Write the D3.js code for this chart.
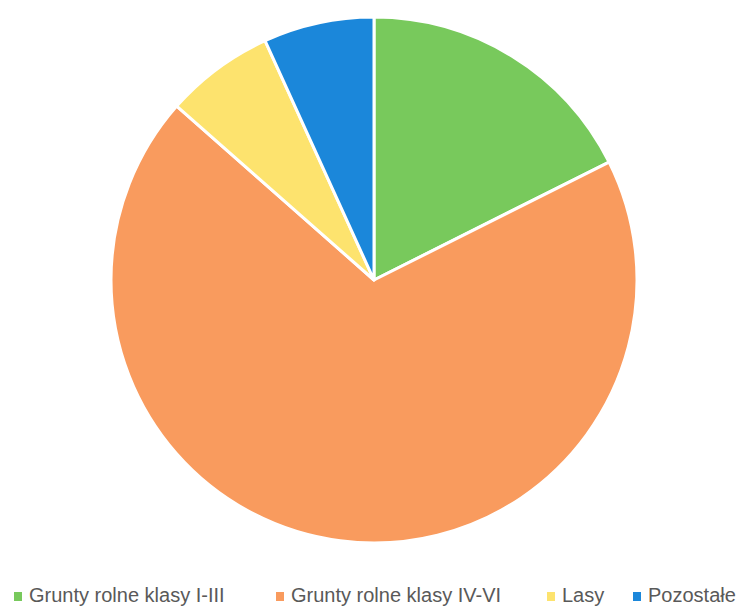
<!DOCTYPE html>
<html>
<head>
<meta charset="utf-8">
<script src="https://cdn.jsdelivr.net/npm/d3@7"></script>
<style>
  body { margin: 0; background: #fff; }
  svg { display: block; }
</style>
</head>
<body>
<svg id="chart"></svg>
<script>
const WIDTH = 742
const HEIGHT = 609

const categories = ['Grunty rolne klasy I-III', 'Grunty rolne klasy IV-VI', 'Lasy', 'Pozostałe']
const values = [17.6, 68.9, 6.7, 6.8]
const colors = ['#78c95c', '#f99b5e', '#fde36e', '#1b87da']

// legend marker x for each entry
const legendX = [14, 276, 547, 633]

const svg = d3.select('#chart')
    .attr('width', WIDTH)
    .attr('height', HEIGHT)

const cx = 374
const cy = 280
const radius = 263

const pie = d3.pie().sort(null).value(d => d)
const arc = d3.arc().innerRadius(0).outerRadius(radius)

const g = svg.append('g').attr('transform', `translate(${cx},${cy})`)

g.selectAll('path')
    .data(pie(values))
    .join('path')
    .attr('d', arc)
    .attr('fill', (d, i) => colors[i])
    .attr('stroke', '#fff')
    .attr('stroke-width', 3)
    .attr('stroke-linejoin', 'round')

// legend
const legend = svg.append('g').attr('class', 'legend')
const items = legend.selectAll('g')
    .data(categories)
    .join('g')
    .attr('transform', (d, i) => `translate(${legendX[i]},602)`)

items.append('rect')
    .attr('x', 0)
    .attr('y', -10)
    .attr('width', 8)
    .attr('height', 9)
    .attr('fill', (d, i) => colors[i])

items.append('text')
    .attr('x', 15)
    .attr('y', 0)
    .style('font-family', '"Liberation Sans", Arial, sans-serif')
    .style('font-size', '20px')
    .style('fill', '#595959')
    .text(d => d)
</script>
</body>
</html>
